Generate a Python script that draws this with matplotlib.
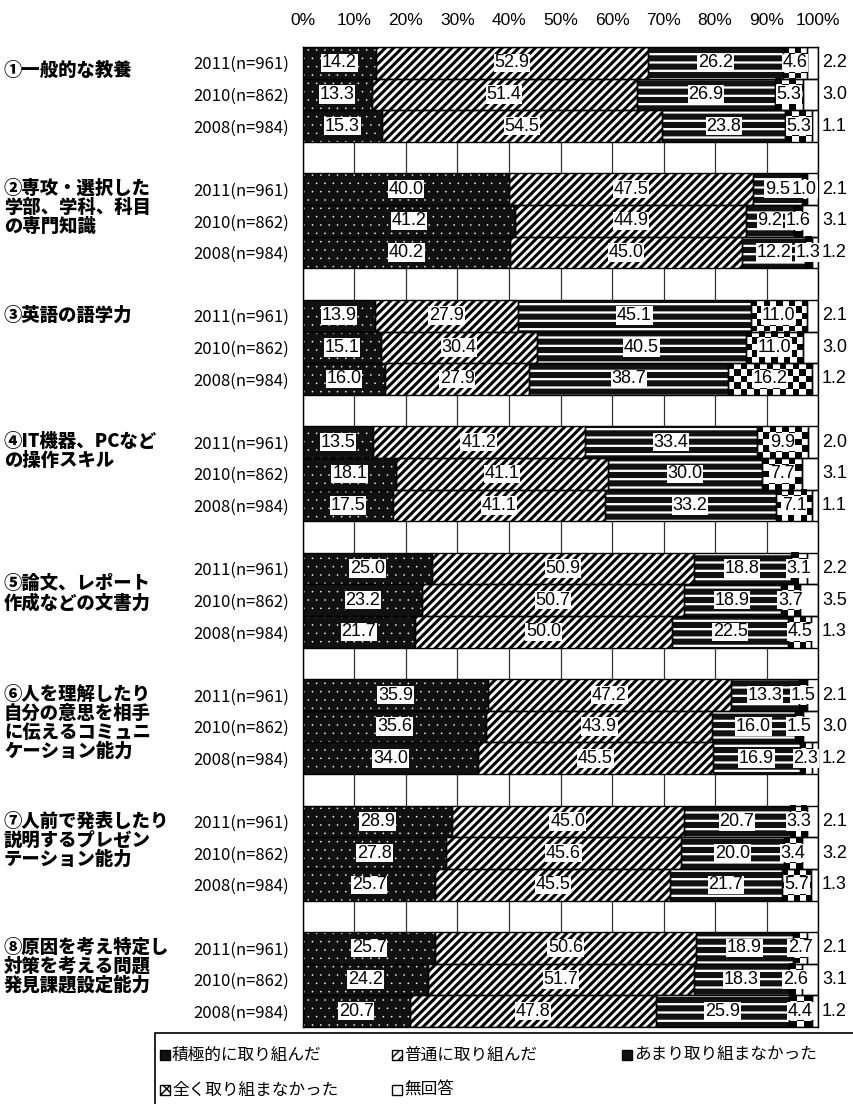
import numpy as np
import matplotlib
matplotlib.use('Agg')
import matplotlib.pyplot as plt
from matplotlib import font_manager
from matplotlib.patches import Rectangle
import matplotlib.transforms as mtransforms

jp = 'Noto Sans CJK JP'
names = {f.name for f in font_manager.fontManager.ttflist}
narrow = 'Liberation Sans Narrow' if 'Liberation Sans Narrow' in names else 'Liberation Sans'
plt.rcParams['font.family'] = [jp, 'DejaVu Sans']

items = ['①一般的な教養',
         '②専攻・選択した\n学部、学科、科目\nの専門知識',
         '③英語の語学力',
         '④IT機器、PCなど\nの操作スキル',
         '⑤論文、レポート\n作成などの文書力',
         '⑥人を理解したり\n自分の意思を相手\nに伝えるコミュニ\nケーション能力',
         '⑦人前で発表したり\n説明するプレゼン\nテーション能力',
         '⑧原因を考え特定し\n対策を考える問題\n発見課題設定能力']
years = ['2011(n=961)', '2010(n=862)', '2008(n=984)']
answers = ['積極的に取り組んだ', '普通に取り組んだ', 'あまり取り組まなかった',
           '全く取り組まなかった', '無回答']
ticks = ['0%', '10%', '20%', '30%', '40%', '50%', '60%', '70%', '80%', '90%', '100%']

# values per item, rows = 2011, 2010, 2008
v1 = [[14.2, 52.9, 26.2, 4.6, 2.2], [13.3, 51.4, 26.9, 5.3, 3.0], [15.3, 54.5, 23.8, 5.3, 1.1]]
v2 = [[40.0, 47.5, 9.5, 1.0, 2.1], [41.2, 44.9, 9.2, 1.6, 3.1], [40.2, 45.0, 12.2, 1.3, 1.2]]
v3 = [[13.9, 27.9, 45.1, 11.0, 2.1], [15.1, 30.4, 40.5, 11.0, 3.0], [16.0, 27.9, 38.7, 16.2, 1.2]]
v4 = [[13.5, 41.2, 33.4, 9.9, 2.0], [18.1, 41.1, 30.0, 7.7, 3.1], [17.5, 41.1, 33.2, 7.1, 1.1]]
v5 = [[25.0, 50.9, 18.8, 3.1, 2.2], [23.2, 50.7, 18.9, 3.7, 3.5], [21.7, 50.0, 22.5, 4.5, 1.3]]
v6 = [[35.9, 47.2, 13.3, 1.5, 2.1], [35.6, 43.9, 16.0, 1.5, 3.0], [34.0, 45.5, 16.9, 2.3, 1.2]]
v7 = [[28.9, 45.0, 20.7, 3.3, 2.1], [27.8, 45.6, 20.0, 3.4, 3.2], [25.7, 45.5, 21.7, 5.7, 1.3]]
v8 = [[25.7, 50.6, 18.9, 2.7, 2.1], [24.2, 51.7, 18.3, 2.6, 3.1], [20.7, 47.8, 25.9, 4.4, 1.2]]
values = [v1, v2, v3, v4, v5, v6, v7, v8]

label_shift = [0.25, 0, 0, 0, 0.5, 0, 0, 0]

fig = plt.figure(figsize=(8.54, 11.04), dpi=100)
ax = fig.add_axes([303/854, 77/1104, 515/854, 980/1104])

ypos = []
ylabels = []


def checker(ax, x0, w, y, h=1.0):
    ncol = max(int(round(w * 5.15 / 6.5)), 1)
    nrow = 5
    arr = (np.add.outer(np.arange(nrow), np.arange(ncol)) % 2).astype(float)
    ax.imshow(arr, cmap='gray', extent=(x0, x0 + w, y + h/2, y - h/2),
              aspect='auto', interpolation='nearest', zorder=2)


def seg(ax, y, w, left, style):
    if style == 0:
        with plt.rc_context({'hatch.linewidth': 0.0}):
            ax.barh(y, w, left=left, height=1, color='#111111', edgecolor='white',
                    hatch='..', lw=0, zorder=2)
    elif style == 1:
        with plt.rc_context({'hatch.linewidth': 2.2}):
            ax.barh(y, w, left=left, height=1, color='white', edgecolor='black',
                    hatch='////', lw=0, zorder=2)
    elif style == 2:
        with plt.rc_context({'hatch.linewidth': 1.6}):
            ax.barh(y, w, left=left, height=1, color='#111111', edgecolor='white',
                    hatch='--', lw=0, zorder=2)
    elif style == 3:
        checker(ax, left, w, y)
    else:
        ax.barh(y, w, left=left, height=1, color='white', lw=0, zorder=2)


for g, vals in enumerate(values):
    for i, row in enumerate(vals):
        y = g * 4 + i
        ypos.append(y)
        ylabels.append(years[i])
        row = np.array(row)
        w = row / row.sum() * 100
        left = np.concatenate([[0], np.cumsum(w)[:-1]])
        for k in range(5):
            seg(ax, y, w[k], left[k], k)
        ax.barh(y, w, left=left, height=1, fill=False, edgecolor='black', lw=1.0, zorder=3)
        for k in range(4):
            ax.text(left[k] + w[k] / 2, y, f'{row[k]:.1f}', ha='center', va='center',
                    fontsize=13, family=narrow, zorder=4,
                    bbox=dict(facecolor='white', edgecolor='none', pad=0.5))
        ax.text(100.8, y, f'{row[4]:.1f}', ha='left', va='center', fontsize=13,
                family=narrow, zorder=4)

ax.set_xlim(0, 100)
ax.set_ylim(30.5, -0.5)
ax.set_xticks(np.arange(0, 101, 10))
ax.set_xticklabels(ticks, family=narrow, fontsize=12.5)
ax.xaxis.tick_top()
ax.tick_params(axis='x', length=0, pad=14)
ax.set_yticks(ypos)
ax.set_yticklabels(ylabels, fontsize=12)
ax.tick_params(axis='y', length=0, pad=10)
ax.grid(axis='x', color='#333333', lw=0.9, zorder=0)
ax.set_axisbelow(True)
for s in ax.spines.values():
    s.set_linewidth(1.0)

trans = mtransforms.blended_transform_factory(fig.transFigure, ax.transData)
for g, name in enumerate(items):
    ax.text(4/854, g * 4 - 0.32 + label_shift[g], name, transform=trans, ha='left', va='top',
            fontsize=13.2, fontweight='black', linespacing=1.0)

# legend drawn by hand: frame, icons, texts
W, H = 854, 1104
fig.patches.append(Rectangle((155/W, 1 - 1112/H), 720/W, (1112 - 1033)/H,
                             transform=fig.transFigure, fill=False, edgecolor='black', lw=1.2))
leg_x = [160, 392, 622, 160, 392]
leg_y = [1055, 1055, 1055, 1090, 1090]
icon = [dict(facecolor='#111111', edgecolor='black'),
        dict(facecolor='white', edgecolor='black', hatch='////'),
        dict(facecolor='#111111', edgecolor='black'),
        dict(facecolor='white', edgecolor='black', hatch='xxx'),
        dict(facecolor='white', edgecolor='black')]
for k in range(5):
    fig.patches.append(Rectangle((leg_x[k]/W, 1 - (leg_y[k] + 5)/H), 10/W, 10/H,
                                 transform=fig.transFigure, lw=1.0, **icon[k]))
    fig.text((leg_x[k] + 12)/W, 1 - leg_y[k]/H, answers[k], ha='left', va='center',
             fontsize=12)

fig.savefig('out.png', dpi=100)
